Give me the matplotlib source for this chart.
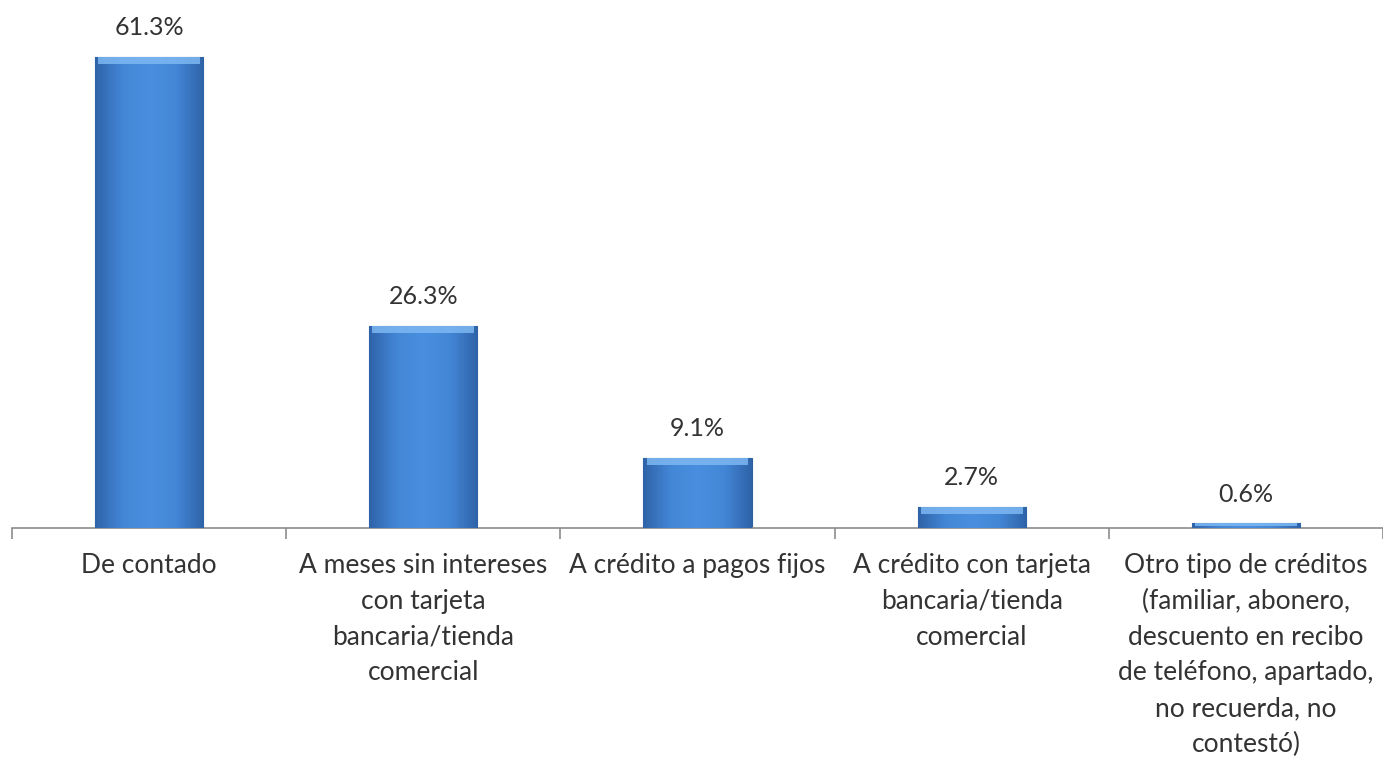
import numpy as np
import matplotlib
matplotlib.use('Agg')
import matplotlib.pyplot as plt
from matplotlib.colors import LinearSegmentedColormap

categories = [
    'De contado',
    'A meses sin intereses\ncon tarjeta\nbancaria/tienda\ncomercial',
    'A crédito a pagos fijos',
    'A crédito con tarjeta\nbancaria/tienda\ncomercial',
    'Otro tipo de créditos\n(familiar, abonero,\ndescuento en recibo\nde teléfono, apartado,\nno recuerda, no\ncontestó)',
]
values = [61.3, 26.3, 9.1, 2.7, 0.6]
value_labels = ['61.3%', '26.3%', '9.1%', '2.7%', '0.6%']

plt.rcParams['font.family'] = ['Lato', 'DejaVu Sans']

fig = plt.figure(figsize=(13.83, 7.59), dpi=100)
ax = fig.add_axes([12 / 1383, 231 / 759, 1371 / 1383, 528 / 759])
ax.set_xlim(-0.5, len(values) - 0.5)
ax.set_ylim(0, 68.75)

x = np.arange(len(values))
bars = ax.bar(x, values, width=0.395, color='#3d7cc9', edgecolor='#2f5f9a',
              linewidth=0.8, zorder=2)

# horizontal shading across each bar, plus a lighter top edge
cmap = LinearSegmentedColormap.from_list(
    'bevel', ['#2f63a8', '#4386d6', '#4a8fdf', '#4386d6', '#2f63a8'])
grad = np.linspace(0, 1, 256).reshape(1, -1)
for b in bars:
    x0, w, h = b.get_x(), b.get_width(), b.get_height()
    im = ax.imshow(grad, extent=[x0, x0 + w, 0, h], aspect='auto',
                   cmap=cmap, zorder=3, interpolation='bicubic')
    im.set_clip_path(b)
    top = min(0.9, h * 0.5)
    ax.fill_between([x0 + 0.012, x0 + w - 0.012], h - top, h,
                    color='#7db8f2', zorder=4, linewidth=0, alpha=0.85)

for xi, v, lab in zip(x, values, value_labels):
    ax.text(xi, v + 2.85, lab, ha='center', va='baseline', fontsize=18,
            color='#333333')

for s in ['top', 'right', 'left']:
    ax.spines[s].set_visible(False)
ax.spines['bottom'].set_color('#8c8c8c')
ax.spines['bottom'].set_linewidth(1.2)
ax.set_yticks([])

ax.set_xticks(np.arange(-0.5, len(values)), minor=False)
ax.set_xticklabels([])
ax.tick_params(axis='x', length=8, color='#8c8c8c', width=1.2, direction='out')

for xi, lab in zip(x, categories):
    ax.text(xi, -3.3, lab, ha='center', va='top', fontsize=19,
            color='#333333', linespacing=1.53)

fig.savefig('out.png', dpi=100)
